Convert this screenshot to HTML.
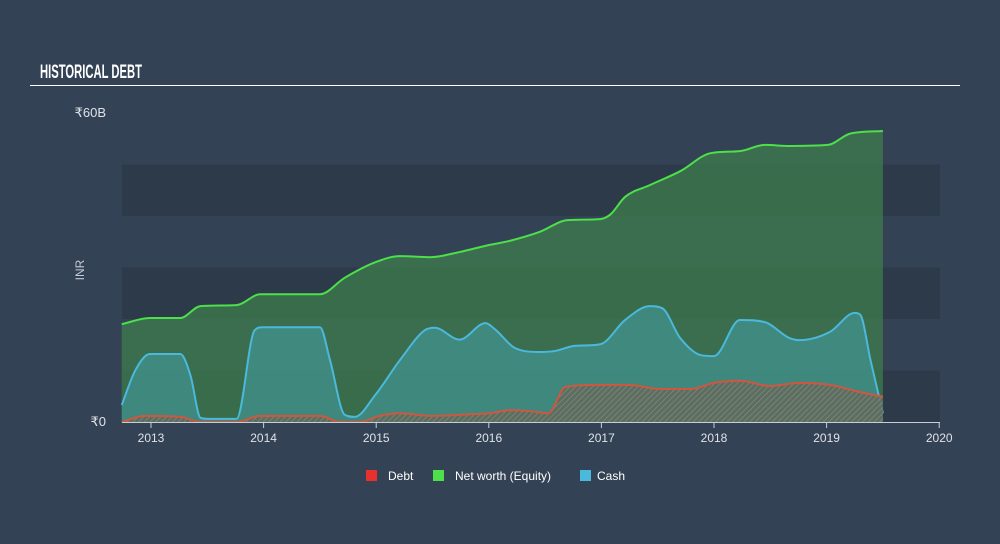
<!DOCTYPE html>
<html><head><meta charset="utf-8">
<style>
html,body{margin:0;padding:0;background:#334254;}
body{width:1000px;height:544px;overflow:hidden;font-family:"Liberation Sans",sans-serif;}
svg{display:block}
</style></head>
<body>
<svg id="chart" width="1000" height="544">
<defs>
<pattern id="hatch" width="4" height="4" patternUnits="userSpaceOnUse" patternTransform="rotate(45)">
<rect width="4" height="4" fill="#5f6a5e"/>
<line x1="0" y1="0" x2="0" y2="4" stroke="#8a8a76" stroke-width="1.5"/>
</pattern>
</defs>
<rect width="1000" height="544" fill="#334254"/>
<text x="40" y="78" fill="#ffffff" font-size="19" font-weight="bold" textLength="102" lengthAdjust="spacingAndGlyphs">HISTORICAL DEBT</text>
<line x1="30" y1="85.5" x2="960" y2="85.5" stroke="#ffffff" stroke-width="1"/>
<g id="bands"></g>
<g id="areas"></g>
<g id="axes"></g>
<text x="106" y="117" fill="#dfe3e8" font-size="13" text-anchor="end">₹60B</text>
<text x="106" y="426" fill="#dfe3e8" font-size="13" text-anchor="end">₹0</text>
<text x="84" y="270" fill="#c5cbd3" font-size="12" text-anchor="middle" transform="rotate(-90 84 270)">INR</text>
<g>
<g><rect x="366" y="470" width="11" height="11" fill="#e8302f"/><text x="388" y="480" fill="#ffffff" font-size="12">Debt</text></g>
<g><rect x="433" y="470" width="11" height="11" fill="#4ce04a"/><text x="455" y="480" fill="#ffffff" font-size="12">Net worth (Equity)</text></g>
<g><rect x="580" y="470" width="11" height="11" fill="#4ab9dc"/><text x="597" y="480" fill="#ffffff" font-size="12">Cash</text></g>
</g>
</svg>
<script>
const yearTicks = [2013, 2014, 2015, 2016, 2017, 2018, 2019, 2020];
const equityX = [2012.74,2012.99,2013.26,2013.44,2013.76,2013.97,2014.50,2014.72,2014.99,2015.21,2015.48,2015.74,2015.97,2016.19,2016.45,2016.70,2016.99,2017.08,2017.21,2017.43,2017.70,2017.97,2018.23,2018.45,2018.67,2019.01,2019.21,2019.50];
const equityY = [19,20.2,20.2,22.5,22.7,24.8,24.8,28,31,32.2,32,33,34.2,35.2,36.9,39.2,39.4,40.3,43.7,46,48.7,52.2,52.6,53.8,53.6,53.8,56,56.5];
const cashX = [2012.74,2012.86,2012.99,2013.26,2013.35,2013.44,2013.52,2013.76,2013.92,2013.99,2014.50,2014.59,2014.72,2014.81,2014.99,2015.21,2015.43,2015.52,2015.74,2015.97,2016.06,2016.23,2016.45,2016.59,2016.77,2016.99,2017.21,2017.43,2017.54,2017.70,2017.88,2018.00,2018.23,2018.45,2018.67,2018.76,2019.03,2019.25,2019.30,2019.39,2019.50];
const cashY = [3.3,10,13.2,13.2,9.1,0.8,0.6,0.6,17.8,18.4,18.4,12,1.4,1,5.2,12,17.8,18.3,16,19.2,17.9,14.4,13.6,13.8,14.8,15.1,19.8,22.5,22.1,16.3,13,12.8,19.8,19.4,16.3,15.9,17.5,21.2,20.8,12,1.7];
const debtX = [2012.74,2012.95,2013.26,2013.44,2013.76,2013.97,2014.50,2014.68,2014.86,2015.03,2015.21,2015.48,2015.83,2016.01,2016.19,2016.37,2016.53,2016.68,2016.99,2017.25,2017.52,2017.79,2018.00,2018.23,2018.50,2018.76,2019.03,2019.30,2019.50];
const debtY = [0,1.2,1,0,0,1.2,1.2,0,0,1.2,1.7,1.2,1.5,1.7,2.3,2.1,1.7,6.8,7.2,7.2,6.4,6.4,7.6,8,7,7.6,7.2,5.8,4.9];

const NS='http://www.w3.org/2000/svg';
const X0=122,X1=940,Y0=422,YT=113;
const xs=v=>151+(v-2013)*112.6;
const ys=v=>Y0-(v/60)*(Y0-YT);
function mk(tag,attrs,parent){const e=document.createElementNS(NS,tag);for(const k in attrs)e.setAttribute(k,attrs[k]);parent.appendChild(e);return e;}
function monotone(px,py){
  const n=px.length,d=[],m=[];
  for(let i=0;i<n-1;i++)d.push((py[i+1]-py[i])/(px[i+1]-px[i]));
  for(let i=0;i<n;i++){
    if(i===0)m.push(d[0]);else if(i===n-1)m.push(d[n-2]);
    else m.push(d[i-1]*d[i]<=0?0:(d[i-1]+d[i])/2);
  }
  for(let i=0;i<n-1;i++){
    if(d[i]===0){m[i]=0;m[i+1]=0;continue;}
    const a=m[i]/d[i],b=m[i+1]/d[i],s=a*a+b*b;
    if(s>9){const t=3/Math.sqrt(s);m[i]=t*a*d[i];m[i+1]=t*b*d[i];}
  }
  let p='M'+px[0]+','+py[0];
  for(let i=0;i<n-1;i++){
    const h=(px[i+1]-px[i])/3;
    p+=' C'+(px[i]+h)+','+(py[i]+m[i]*h)+' '+(px[i+1]-h)+','+(py[i+1]-m[i+1]*h)+' '+px[i+1]+','+py[i+1];
  }
  return p;
}
const bands=document.getElementById('bands');
for(let k=0;k<3;k++){
  const b=mk('rect',{x:X0,y:ys(50-k*20),width:X1-X0,height:ys(0)-ys(10),fill:'#2d3a4a'},bands);
  
  
}
const areas=document.getElementById('areas');
function series(X,Y,fill,fillOp,stroke,name){
  const px=X.map(xs),py=Y.map(ys);
  const line=monotone(px,py);
  const a=mk('path',{d:line+' L'+px[px.length-1]+','+Y0+' L'+px[0]+','+Y0+' Z',fill:fill,'fill-opacity':fillOp},areas);
  
  
  const l=mk('path',{d:line,fill:'none',stroke:stroke,'stroke-width':2},areas);
  
  
}
series(equityX,equityY,'#3d7d4c',0.75,'#4ce04a','equity');
series(cashX,cashY,'#44a3b0',0.5,'#4ab9dc','cash');
series(debtX,debtY,'url(#hatch)',0.9,'#d0573f','debt');
const axes=document.getElementById('axes');
const ax=mk('line',{x1:X0,y1:Y0+0.5,x2:X1,y2:Y0+0.5,stroke:'#c8ced6','stroke-width':1},axes);


yearTicks.forEach(y=>{
  const x=xs(y);
  const t=mk('line',{x1:x,y1:Y0,x2:x,y2:Y0+6,stroke:'#c8ced6'},axes);
  
  
  const tx=mk('text',{x:x,y:Y0+20,fill:'#dfe3e8','font-size':12,'text-anchor':'middle'},axes);
  tx.textContent=y;
  
  
});
</script>
</body></html>
